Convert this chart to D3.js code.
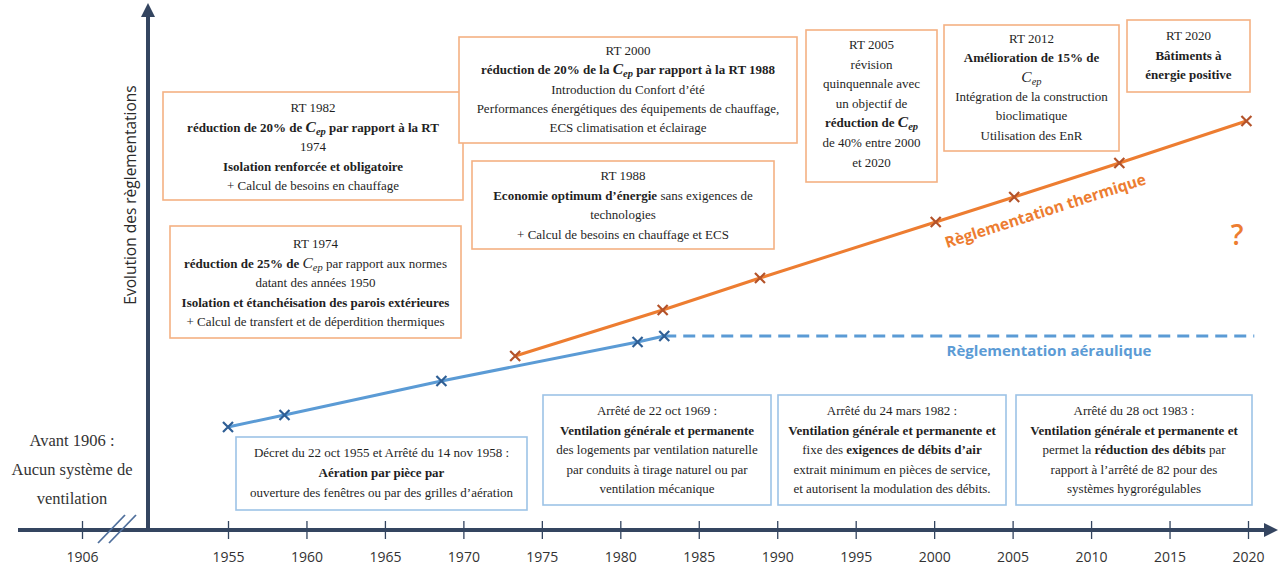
<!DOCTYPE html>
<html><head><meta charset="utf-8">
<script src="https://cdn.jsdelivr.net/npm/d3@7"></script>
<style>
html,body{margin:0;padding:0;background:#fff;}
svg{display:block;}
</style></head>
<body>
<svg id="chart" width="1278" height="567"></svg>
<script>
// ---------- data ----------
const tickYears = [1906, 1955, 1960, 1965, 1970, 1975, 1980, 1985, 1990, 1995, 2000, 2005, 2010, 2015, 2020];
const thermYears = [1973.3, 1982.7, 1988.9, 2000.1, 2005.1, 2011.8, 2019.9];
const thermValues = [34.8, 44.0, 50.4, 61.6, 66.6, 73.4, 81.8];
const aeroYears = [1955, 1958.6, 1968.6, 1981.1, 1982.8];
const aeroValues = [20.6, 23.0, 29.8, 37.6, 38.8];
const aeroFutureYears = [1982.8, 2020.4];
const aeroFutureValues = [38.8, 38.8];
const seriesNames = ["Règlementation thermique", "Règlementation aéraulique"];
const yTitle = "Evolution des règlementations";
const beforeText = ["Avant 1906 :", "Aucun système de", "ventilation"];

// box texts: * toggles bold, § = C_ep
const rtTexts = [
  ["RT 1982", "*réduction de 20% de § par rapport à la RT", "1974", "*Isolation renforcée et obligatoire", "+ Calcul de besoins en chauffage"],
  ["RT 1974", "*réduction de 25% de* § par rapport aux normes", "datant des années 1950", "*Isolation et étanchéisation des parois extérieures", "+ Calcul de transfert et de déperdition thermiques"],
  ["RT 2000", "*réduction de 20% de la § par rapport à la RT 1988", "Introduction du Confort d’été", "Performances énergétiques des équipements de chauffage,", "ECS climatisation et éclairage"],
  ["RT 1988", "*Economie optimum d’énergie* sans exigences de", "technologies", "+ Calcul de besoins en chauffage et ECS"],
  ["RT 2005", "révision", "quinquennale avec", "un objectif de", "*réduction de §", "de 40% entre 2000", "et 2020"],
  ["RT 2012", "*Amélioration de 15% de", "§", "Intégration de la construction", "bioclimatique", "Utilisation des EnR"],
  ["RT 2020", "*Bâtiments à", "*énergie positive"]
];
const ventTexts = [
  ["Décret du 22 oct 1955 et Arrêté du 14 nov 1958 :", "*Aération par pièce par", "ouverture des fenêtres ou par des grilles d’aération"],
  ["Arrêté de 22 oct 1969 :", "*Ventilation générale et permanente", "des logements par ventilation naturelle", "par conduits à tirage naturel ou par", "ventilation mécanique"],
  ["Arrêté du 24 mars 1982 :", "*Ventilation générale et permanente et", "fixe des *exigences de débits d’air", "extrait minimum en pièces de service,", "et autorisent la modulation des débits."],
  ["Arrêté du 28 oct 1983 :", "*Ventilation générale et permanente et", "permet la *réduction des débits* par", "rapport à l’arrêté de 82 pour des", "systèmes hygrorégulables"]
];

// ---------- layout (annotation boxes, pixels) ----------
const rtLayout = [
  {x:163, y:92, w:300, h:108, ty:108, lh:19.6},
  {x:170, y:226, w:291, h:112, ty:244, lh:19.6},
  {x:459, y:37, w:338, h:106, ty:51, lh:19.3},
  {x:472, y:161, w:302, h:88, ty:176, lh:19.5},
  {x:806, y:30, w:131, h:152, ty:45, lh:19.6},
  {x:944, y:25, w:175, h:126, ty:39, lh:19.3},
  {x:1127, y:20, w:123, h:72, ty:36, lh:19.5}
];
const ventLayout = [
  {x:236, y:437, w:291, h:73, ty:453, lh:19.8},
  {x:543, y:395, w:228, h:110, ty:411, lh:19.5},
  {x:778, y:395, w:228, h:110, ty:411, lh:19.5},
  {x:1016, y:395, w:236, h:110, ty:411, lh:19.5}
];

const svg = d3.select("#chart");
const x = d3.scaleLinear().domain([1906, 1955, 2020]).range([82, 228, 1248]);
const y = d3.scaleLinear().domain([0, 100]).range([530, 30]);
const axisY = 530, axisX = 148;

const ORANGE = "#ed7d31", BLUE = "#5b9bd5", AXIS = "#344560";
const SERIF = "'Liberation Serif','Times New Roman',serif";
const SANS = "'Open Sans','Noto Sans',sans-serif";

// axes
const xAxis = d3.axisBottom(x).tickValues(tickYears).tickFormat(d3.format("d")).tickSize(9).tickPadding(13);
const gx = svg.append("g").attr("transform", `translate(0,${axisY})`).call(xAxis);
gx.select(".domain").remove();
gx.selectAll(".tick line").attr("y1", -9).attr("y2", 9).attr("stroke", AXIS).attr("stroke-width", 1.3);
gx.selectAll(".tick text").attr("fill", "#333").style("font-family", SANS).style("font-size", "14px");

svg.append("line").attr("x1", 18).attr("x2", 1268).attr("y1", axisY).attr("y2", axisY)
  .attr("stroke", AXIS).attr("stroke-width", 4);
svg.append("path").attr("d", `M1278,${axisY} L1264,${axisY-7} L1264,${axisY+7} Z`).attr("fill", AXIS);
svg.append("line").attr("x1", axisX).attr("x2", axisX).attr("y1", axisY).attr("y2", 14)
  .attr("stroke", AXIS).attr("stroke-width", 4);
svg.append("path").attr("d", `M${axisX},3 L${axisX-7},17 L${axisX+7},17 Z`).attr("fill", AXIS);

// axis break marks
[0, 11].forEach(off => {
  svg.append("line").attr("x1", 98 + off).attr("y1", 543).attr("x2", 125 + off).attr("y2", 515)
    .attr("stroke", "#4f6f9c").attr("stroke-width", 1.8);
});

// y title
svg.append("text").attr("transform", `translate(136,195) rotate(-90)`).attr("text-anchor", "middle")
  .style("font-family", SANS).style("font-size", "15.5px").attr("fill", "#2b2b2b").text(yTitle);

// before text
beforeText.forEach((t, i) => {
  svg.append("text").attr("x", 72).attr("y", 446 + i * 29).attr("text-anchor", "middle")
    .style("font-family", SERIF).style("font-size", "16.5px").attr("fill", "#333").text(t);
});

// rich text helper
function rich(sel, str) {
  let bold = false;
  const parts = str.split(/(\*|§)/).filter(s => s !== "");
  let shifted = false;
  parts.forEach(p => {
    if (p === "*") { bold = !bold; return; }
    if (p === "§") {
      const c = sel.append("tspan").text("C").style("font-style", "italic").style("font-size", "15.5px")
        .style("font-weight", bold ? "bold" : "normal");
      if (shifted) { c.attr("dy", -3); shifted = false; }
      sel.append("tspan").text("ep").style("font-style", "italic").style("font-size", "10.5px")
        .style("font-weight", bold ? "bold" : "normal").attr("dy", 3);
      shifted = true;
      return;
    }
    const t = sel.append("tspan").text(p).style("font-weight", bold ? "bold" : "normal");
    if (shifted) { t.attr("dy", -3); shifted = false; }
  });
}

function drawBoxes(texts, layout, stroke) {
  texts.forEach((lines, i) => {
    const L = layout[i];
    svg.append("rect").attr("x", L.x).attr("y", L.y).attr("width", L.w).attr("height", L.h)
      .attr("fill", "#fff").attr("stroke", stroke).attr("stroke-width", 1.6);
    lines.forEach((ln, j) => {
      const t = svg.append("text").attr("x", L.x + L.w / 2).attr("y", L.ty + j * L.lh + 4)
        .attr("text-anchor", "middle").style("font-family", SERIF).style("font-size", "13px")
        .attr("fill", "#1f1f1f");
      rich(t, ln);
    });
  });
}
drawBoxes(rtTexts, rtLayout, "#f4b183");
drawBoxes(ventTexts, ventLayout, "#9dc3e6");

// series
const therm = thermYears.map((d, i) => [d, thermValues[i]]);
const aero = aeroYears.map((d, i) => [d, aeroValues[i]]);
const aeroF = aeroFutureYears.map((d, i) => [d, aeroFutureValues[i]]);
const line = d3.line().x(d => x(d[0])).y(d => y(d[1]));

svg.append("path").datum(aeroF).attr("d", line).attr("fill", "none").attr("stroke", BLUE)
  .attr("stroke-width", 3).attr("stroke-dasharray", "12,7");
svg.append("path").datum(aero).attr("d", line).attr("fill", "none").attr("stroke", BLUE).attr("stroke-width", 3);
svg.append("path").datum(therm).attr("d", line).attr("fill", "none").attr("stroke", ORANGE).attr("stroke-width", 3);

const cross = "M-5,-5L5,5M-5,5L5,-5";
svg.selectAll(".mA").data(aero).join("path").attr("d", cross)
  .attr("transform", d => `translate(${x(d[0])},${y(d[1])})`).attr("stroke", "#2f5f95").attr("stroke-width", 2.2).attr("fill", "none");
svg.selectAll(".mT").data(therm).join("path").attr("d", cross)
  .attr("transform", d => `translate(${x(d[0])},${y(d[1])})`).attr("stroke", "#b4532a").attr("stroke-width", 2.2).attr("fill", "none");

// series labels
const a0 = therm[3], a1 = therm[5];
const ang = Math.atan2(y(a1[1]) - y(a0[1]), x(a1[0]) - x(a0[0])) * 180 / Math.PI;
svg.append("text").attr("text-anchor", "middle")
  .style("font-family", SANS).style("font-size", "15.5px").style("font-weight", "bold")
  .attr("fill", ORANGE).attr("transform", `translate(1047,216) rotate(${ang})`).text(seriesNames[0]);
svg.append("text").attr("x", 1049).attr("y", 356).attr("text-anchor", "middle")
  .style("font-family", SANS).style("font-size", "15px").style("font-weight", "bold")
  .attr("fill", BLUE).text(seriesNames[1]);
svg.append("text").attr("x", 1237).attr("y", 245).attr("text-anchor", "middle")
  .style("font-family", SANS).style("font-size", "28px").style("font-weight", "600").attr("fill", ORANGE).text("?");
</script>
</body></html>
